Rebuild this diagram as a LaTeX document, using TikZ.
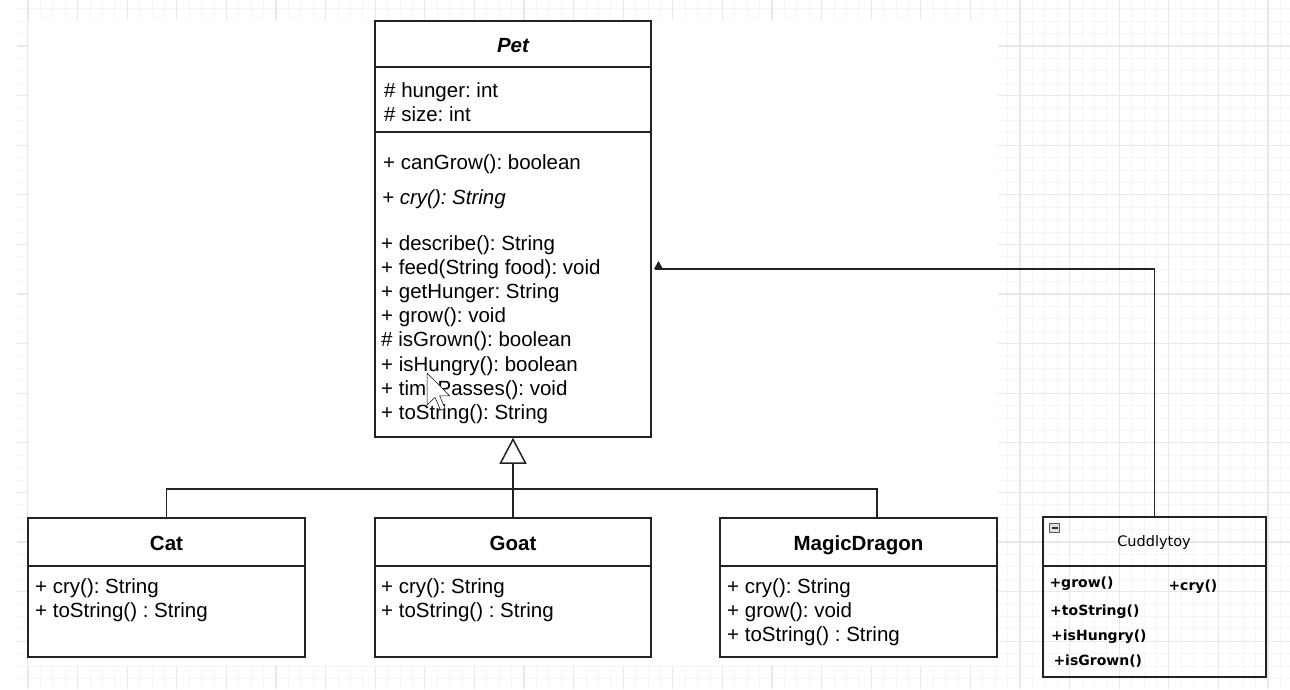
\documentclass[tikz,border=0pt]{standalone}
\usepackage{fontspec}
\setmainfont{Liberation Sans}
\newfontfamily\tahoma{DejaVu Sans}
\usetikzlibrary{arrows.meta}
\frenchspacing
\newcommand\fsz{\fontsize{20.5}{24}\selectfont}
\newcommand\csz{\tahoma\fontsize{14}{17}\selectfont}
\definecolor{gridmajor}{HTML}{E8E8E8}
\definecolor{gridminor}{HTML}{F5F5F5}
\definecolor{edge}{HTML}{222222}
\tikzset{
  cls/.style={draw=edge, line width=1.5pt, fill=white, inner sep=0pt, rectangle},
  clsnofill/.style={draw=edge, line width=1.5pt, inner sep=0pt, rectangle},
  divider/.style={draw=edge, line width=1.5pt},
  txt/.style={anchor=base west, inner sep=0pt, font=\fsz, text=black},
  ttl/.style={anchor=base, inner sep=0pt, font=\fsz\bfseries, text=black},
  ctxt/.style={anchor=base west, inner sep=0pt, font=\csz\bfseries, text=black},
  conn/.style={draw=edge, line width=1.5pt},
  gminor/.style={draw=gridminor, line width=1pt},
  gmajor/.style={draw=gridmajor, line width=1.2pt}
}
\begin{document}
\begin{tikzpicture}[x=1pt,y=-1pt]
\useasboundingbox (0,0) rectangle (1290,689);
\fill[white] (0,0) rectangle (1290,689);
% background grid (visible outside the white canvas)
\begin{scope}
\clip (998,0) rectangle (1290,689)
      (17,0) rectangle (998,20)
      (17,666) rectangle (998,689)
      (17,20) rectangle (28,666);
\foreach \i in {-2,...,102} {
  \pgfmathsetmacro\xx{28+12.4*\i}
  \draw[gminor] (\xx,0) -- (\xx,689);
}
\foreach \j in {0,...,57} {
  \pgfmathsetmacro\yy{-3.6+12.4*\j}
  \draw[gminor] (0,\yy) -- (1290,\yy);
}
\foreach \i in {0,...,26} {
  \pgfmathsetmacro\xx{28+49.6*\i}
  \draw[gmajor] (\xx,0) -- (\xx,689);
}
\foreach \j in {0,...,14} {
  \pgfmathsetmacro\yy{-3.6+49.6*\j}
  \draw[gmajor] (0,\yy) -- (1290,\yy);
}
\end{scope}

% ---------- Pet ----------
\node[cls, minimum width=276pt, minimum height=416pt] (pet) at (513,229) {};
\draw[divider] (375,67) -- (651,67);
\draw[divider] (375,132) -- (651,132);
\node[ttl, font=\fsz\bfseries\itshape] (pettitle) at (513,52.7) {Pet};
\node[txt] (pa1) at (384,97) {\# hunger: int};
\node[txt] (pa2) at (384,121) {\# size: int};
\node[txt] (pm1) at (383,169) {+ canGrow(): boolean};
\node[txt, font=\fsz\itshape] (pm2) at (382,204) {+ cry(): String};
\node[txt] (pm3) at (381,250) {+ describe(): String};
\node[txt] (pm4) at (381,274.2) {+ feed(String food): void};
\node[txt] (pm5) at (381,298.4) {+ getHunger: String};
\node[txt] (pm6) at (381,322.6) {+ grow(): void};
\node[txt] (pm7) at (381,346.8) {\# isGrown(): boolean};
\node[txt] (pm8) at (381,371) {+ isHungry(): boolean};
\node[txt] (pm9) at (381,395.2) {+ timePasses(): void};
\node[txt] (pm10) at (381,419.4) {+ toString(): String};

% ---------- Cat ----------
\node[cls, minimum width=277pt, minimum height=139pt] (cat) at (166.5,587.5) {};
\draw[divider] (28,566) -- (305,566);
\node[ttl] (cattitle) at (166.5,550.7) {Cat};
\node[txt] (cm1) at (35,593.3) {+ cry(): String};
\node[txt] (cm2) at (35,617.3) {+ toString() : String};

% ---------- Goat ----------
\node[cls, minimum width=276pt, minimum height=139pt] (goat) at (513,587.5) {};
\draw[divider] (375,566) -- (651,566);
\node[ttl] (goattitle) at (513,550.7) {Goat};
\node[txt] (gm1) at (381,593.3) {+ cry(): String};
\node[txt] (gm2) at (381,617.3) {+ toString() : String};

% ---------- MagicDragon ----------
\node[cls, minimum width=277pt, minimum height=139pt] (md) at (858.5,587.5) {};
\draw[divider] (720,566) -- (997,566);
\node[ttl] (mdtitle) at (858.5,550.7) {MagicDragon};
\node[txt] (mm1) at (727,593.3) {+ cry(): String};
\node[txt] (mm2) at (727,617.3) {+ grow(): void};
\node[txt] (mm3) at (727,641.3) {+ toString() : String};

% ---------- Cuddlytoy ----------
\node[clsnofill, minimum width=223pt, minimum height=160pt] (cud) at (1154.5,597) {};
\draw[divider] (1043,566) -- (1266,566);
\fill[gray!25, draw=gray!70!black, line width=0.8pt] (1049.5,523.5) rectangle (1059.5,532.5);
\draw[line width=1.2pt, gray!40!black] (1051.5,528) -- (1057.5,528);
\node[anchor=base, inner sep=0pt, font=\csz\fontsize{14.5}{17}\selectfont] (cudtitle) at (1154,546) {Cuddlytoy};
\node[ctxt] (um1) at (1049.3,587.3) {+grow()};
\node[ctxt] (um2) at (1050,615) {+toString()};
\node[ctxt] (um3) at (1051,640) {+isHungry()};
\node[ctxt] (um4) at (1053.3,665.7) {+isGrown()};
\node[ctxt] (um5) at (1168.3,590) {+cry()};

% ---------- connectors ----------
\coordinate (bus) at (513,489);
\draw[conn, -{Triangle[open, length=26pt, width=27pt, line width=1.5pt]}] (goat.north) -- (pet.south);
\draw[conn] (cat.north) |- (bus) -| ([xshift=18.5pt]md.north);
\coordinate (pettip) at (655,269);
\draw[conn] (cud.north) |- (pettip);
\fill[edge] (654,269) -- (658.5,261) -- (663,269) -- cycle;

% ---------- mouse pointer ----------
\begin{scope}[shift={(427,373)}, scale=2]
\draw[fill=white, draw=black, line width=0.5pt, line join=miter]
  (0,0) -- (0,16) -- (4,12.2) -- (6.8,18.6) -- (9,17.6) -- (6.3,11.4) -- (11.3,11.4) -- cycle;
\end{scope}
\end{tikzpicture}
\end{document}
